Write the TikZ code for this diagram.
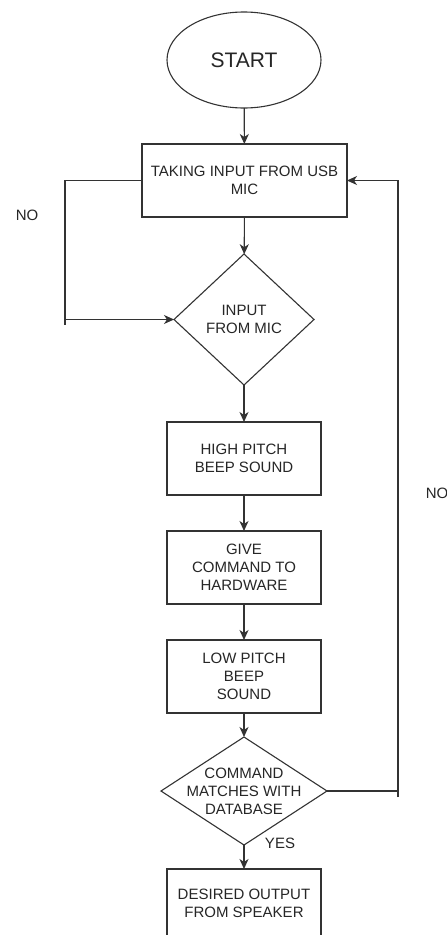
\documentclass[tikz,border=0pt]{standalone}
\usepackage{fontspec}
\setmainfont{Liberation Sans}
\usetikzlibrary{shapes.geometric,arrows.meta}
\begin{document}
\begin{tikzpicture}[x=1bp,y=-1bp,
  every node/.style={font=\fontsize{15bp}{18bp}\selectfont, text=black!85},
  line/.style={draw=black!80, line width=1.1bp},
  arr/.style={line, -{Stealth[length=10bp,width=9bp,inset=3bp]}},
  procbox/.style={draw=black!80, line width=1.1bp, rectangle, align=center, inner sep=0, outer sep=0, minimum width=154bp, minimum height=73bp},
  decbox/.style={draw=black!80, line width=1.1bp, diamond, inner sep=0, outer sep=0},
  lbl/.style={align=center, inner sep=0},
  tag/.style={inner sep=0}
]
\useasboundingbox (0,0) rectangle (447,935);
\clip (0,0) rectangle (447,935);
\fill[white] (0,0) rectangle (447,935);

\node[draw=black!80, line width=1.1bp, ellipse, minimum width=154bp, minimum height=96bp, inner sep=0, outer sep=0, font=\fontsize{21bp}{24bp}\selectfont] (start) at (244,60) {START};
\node[procbox, minimum width=205bp] (in) at (244.5,180.5) {TAKING INPUT FROM USB\\MIC};
\node[decbox, minimum width=140bp, minimum height=131bp, label={[lbl]center:INPUT\\FROM MIC}] (d1) at (244,319.5) {};
\node[procbox] (hi) at (244,458.5) {HIGH PITCH\\BEEP SOUND};
\node[procbox] (give) at (244,567.5) {GIVE\\COMMAND TO\\HARDWARE};
\node[procbox] (lo) at (244,676.5) {LOW PITCH\\BEEP\\SOUND};
\node[decbox, minimum width=166bp, minimum height=108bp, label={[lbl]center:COMMAND\\MATCHES WITH\\DATABASE}] (d2) at (244,791) {};
\node[procbox] (out) at (244,905.5) {\\[-12bp]DESIRED OUTPUT\\FROM SPEAKER};

\node[tag] (no1) at (27,215) {NO};
\node[tag] (no2) at (437,493) {NO};
\node[tag] (yes) at (280,843) {YES};

\coordinate (lb) at (65,325);
\coordinate (rb) at (398,797);

\draw[arr] (start) -- (in);
\draw[arr] (in) -- (d1);
\draw[arr] (d1) -- (hi);
\draw[arr] (hi) -- (give);
\draw[arr] (give) -- (lo);
\draw[arr] (lo) -- (d2);
\draw[arr] (d2) -- (out);

\draw[line] (in.west) -| (lb);
\draw[arr] (lb |- d1.west) -- (d1.west);
\draw[line] (d2.east) -- (d2.east -| rb);
\draw[arr] (rb) |- (in.east);
\end{tikzpicture}
\end{document}
